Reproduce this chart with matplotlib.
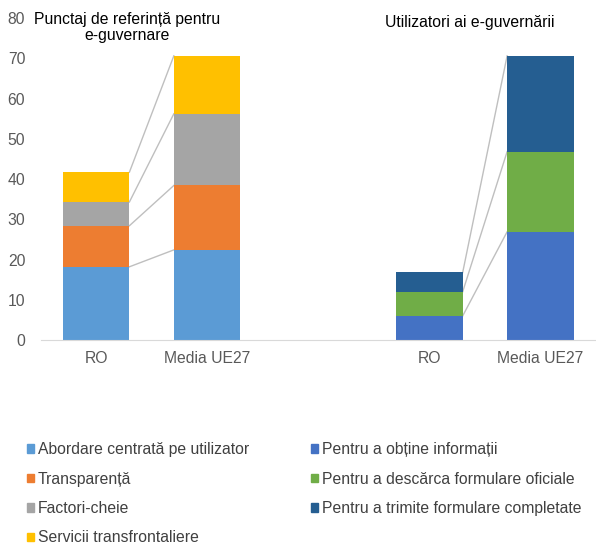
import matplotlib.pyplot as plt
from matplotlib.patches import Patch

plt.rcParams['font.family'] = ['Liberation Sans', 'DejaVu Sans']

# date
grupuri = ['RO', 'Media UE27']
serii_stanga = ['Abordare centrată pe utilizator', 'Transparență',
                'Factori-cheie', 'Servicii transfrontaliere']
valori_stanga = [[18.2, 22.4],
                 [10.2, 16.0],
                 [5.9, 17.8],
                 [7.4, 14.4]]
culori_stanga = ['#5B9BD5', '#ED7D31', '#A5A5A5', '#FFC000']

serii_dreapta = ['Pentru a obține informații', 'Pentru a descărca formulare oficiale',
                 'Pentru a trimite formulare completate']
valori_dreapta = [[6.0, 26.9],
                  [6.0, 19.9],
                  [4.8, 23.8]]
culori_dreapta = ['#4472C4', '#70AD47', '#255E91']

titlu_stanga = 'Punctaj de referință pentru\ne-guvernare'
titlu_dreapta = 'Utilizatori ai e-guvernării'

fs = 11.3
latime = 0.6

fig = plt.figure(figsize=(5.96, 5.45), dpi=100)
ax = fig.add_axes([0.068, 0.376, 0.932, 0.591])


def stiva(xs, valori, culori):
    jos = [0.0, 0.0]
    for vals, c in zip(valori, culori):
        ax.bar(xs, vals, width=latime, bottom=jos, color=c, zorder=2)
        jos = [j + v for j, v in zip(jos, vals)]
        # linie de legatura intre coloane
        ax.plot([xs[0] + latime / 2, xs[1] - latime / 2], jos,
                color='#BFBFBF', lw=1, zorder=1)


stiva([0, 1], valori_stanga, culori_stanga)
stiva([3, 4], valori_dreapta, culori_dreapta)

ax.set_xlim(-0.5, 4.5)
ax.set_ylim(0, 80)
ax.set_yticks(range(0, 81, 10))
ax.set_xticks([0, 1, 3, 4])
ax.set_xticklabels(grupuri + grupuri)
ax.tick_params(axis='y', length=0, pad=11, labelsize=fs, labelcolor='#595959')
ax.tick_params(axis='x', length=0, pad=8, labelsize=fs, labelcolor='#595959')
for s in ['top', 'right', 'left']:
    ax.spines[s].set_visible(False)
ax.spines['bottom'].set_color('#D9D9D9')

fig.text(127 / 596, 1 - 12 / 545, titlu_stanga, ha='center', va='top',
         fontsize=fs, linespacing=1.1)
fig.text(470 / 596, 1 - 22 / 545, titlu_dreapta, ha='center', va='center',
         fontsize=fs)

handles = [Patch(color=c) for c in culori_stanga + culori_dreapta]
fig.legend(handles, serii_stanga + serii_dreapta, ncol=2, loc='upper left',
           bbox_to_anchor=(13 / 596, 1 - 428 / 545), frameon=False,
           fontsize=fs, labelcolor='#404040', handlelength=0.45,
           handleheight=0.45, handletextpad=0.25, columnspacing=3.9,
           labelspacing=0.92)

fig.savefig('out.png', dpi=100)
